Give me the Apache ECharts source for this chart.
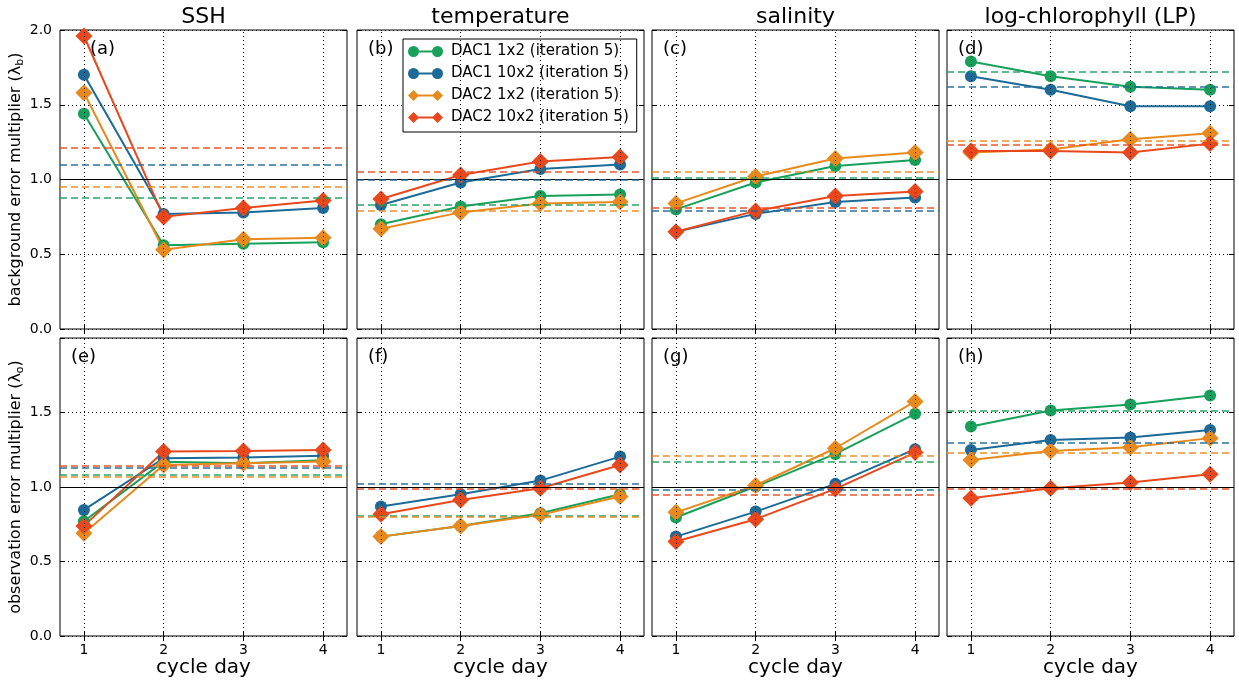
<!DOCTYPE html>
<html>
<head>
<meta charset="utf-8">
<script src="https://cdn.jsdelivr.net/npm/echarts@6/dist/echarts.min.js"></script>
<style>
  html, body { margin: 0; padding: 0; background: #fff; }
  #chart { width: 1239px; height: 685px; }
</style>
</head>
<body>
<div id="chart"></div>
<script>
// ---- data -------------------------------------------------------------
const cycleDays = [1, 2, 3, 4];
const variables = ['SSH', 'temperature', 'salinity', 'log-chlorophyll (LP)'];
const panelTags = ['(a)', '(b)', '(c)', '(d)', '(e)', '(f)', '(g)', '(h)'];
const experiments = [
  'DAC1 1x2 (iteration 5)',
  'DAC1 10x2 (iteration 5)',
  'DAC2 1x2 (iteration 5)',
  'DAC2 10x2 (iteration 5)'
];

// background error multiplier, one row per variable (SSH, T, S, chl), values per cycle day
const bgDAC1_1x2  = [[1.44, 0.56, 0.57, 0.58], [0.70, 0.82, 0.89, 0.90], [0.80, 0.98, 1.09, 1.13], [1.79, 1.69, 1.62, 1.60]];
const bgDAC1_10x2 = [[1.70, 0.77, 0.78, 0.81], [0.83, 0.98, 1.07, 1.10], [0.65, 0.77, 0.85, 0.88], [1.69, 1.60, 1.49, 1.49]];
const bgDAC2_1x2  = [[1.58, 0.53, 0.60, 0.61], [0.67, 0.78, 0.84, 0.85], [0.84, 1.02, 1.14, 1.18], [1.18, 1.20, 1.27, 1.31]];
const bgDAC2_10x2 = [[1.96, 0.75, 0.81, 0.86], [0.87, 1.03, 1.12, 1.15], [0.65, 0.79, 0.89, 0.92], [1.19, 1.19, 1.18, 1.24]];

// background multiplier reference levels (dashed), per variable
const bgRefDAC1_1x2  = [0.877, 0.831, 1.009, 1.717];
const bgRefDAC1_10x2 = [1.096, 1.004, 0.790, 1.617];
const bgRefDAC2_1x2  = [0.947, 0.790, 1.049, 1.265];
const bgRefDAC2_10x2 = [1.214, 1.049, 0.815, 1.232];

// observation error multiplier
const obDAC1_1x2  = [[0.77, 1.17, 1.16, 1.18], [0.667, 0.739, 0.824, 0.951], [0.795, 1.003, 1.222, 1.491], [1.406, 1.513, 1.554, 1.614]];
const obDAC1_10x2 = [[0.846, 1.193, 1.198, 1.209], [0.869, 0.951, 1.043, 1.204], [0.667, 0.835, 1.021, 1.254], [1.249, 1.316, 1.332, 1.383]];
const obDAC2_1x2  = [[0.69, 1.148, 1.16, 1.171], [0.667, 0.739, 0.813, 0.936], [0.83, 1.01, 1.26, 1.574], [1.182, 1.242, 1.267, 1.328]];
const obDAC2_10x2 = [[0.739, 1.238, 1.242, 1.249], [0.817, 0.913, 0.992, 1.148], [0.634, 0.784, 0.987, 1.231], [0.925, 0.992, 1.030, 1.086]];

// observation multiplier reference levels (dashed)
const obRefDAC1_1x2  = [1.081, 0.813, 1.171, 1.507];
const obRefDAC1_10x2 = [1.130, 1.025, 0.976, 1.305];
const obRefDAC2_1x2  = [1.070, 0.801, 1.213, 1.233];
const obRefDAC2_10x2 = [1.137, 0.987, 0.951, 0.987];

// ---- styling ----------------------------------------------------------
const FONT = 'DejaVu Sans';
const COLORS = ['#17a05a', '#1b6a97', '#e8891d', '#e8481b'];
const SYMBOLS = ['circle', 'circle', 'diamond', 'diamond'];
const SYMBOL_SIZE = [12, 12, 17, 17];
const GRID_LEFT = [60, 357, 652, 947];
const GRID_TOP = [30, 338];
const GRID_HEIGHT = [299, 298];
const GRID_WIDTH = 287;

const ICON_CIRCLES = 'path://M0,5.5a5.5,5.5 0 1,1 11,0a5.5,5.5 0 1,1 -11,0Z M24,5.5a5.5,5.5 0 1,1 11,0a5.5,5.5 0 1,1 -11,0Z M5,4.5H30V6.5H5Z';
const ICON_DIAMONDS = 'path://M0,5.5L5.5,0L11,5.5L5.5,11Z M24,5.5L29.5,0L35,5.5L29.5,11Z M5,4.5H30V6.5H5Z';
const ICONS = [ICON_CIRCLES, ICON_CIRCLES, ICON_DIAMONDS, ICON_DIAMONDS];

const rows = [
  { values: [bgDAC1_1x2, bgDAC1_10x2, bgDAC2_1x2, bgDAC2_10x2],
    refs: [bgRefDAC1_1x2, bgRefDAC1_10x2, bgRefDAC2_1x2, bgRefDAC2_10x2],
    yName: '{t|background error multiplier (λ}{s|b}{t|)}' },
  { values: [obDAC1_1x2, obDAC1_10x2, obDAC2_1x2, obDAC2_10x2],
    refs: [obRefDAC1_1x2, obRefDAC1_10x2, obRefDAC2_1x2, obRefDAC2_10x2],
    yName: '{t|observation error multiplier (λ}{s|o}{t|)}' }
];

const grid = [], xAxis = [], yAxis = [], series = [], graphic = [];

rows.forEach((row, r) => {
  variables.forEach((v, c) => {
    const p = r * 4 + c;
    grid.push({
      left: GRID_LEFT[c], top: GRID_TOP[r], width: GRID_WIDTH, height: GRID_HEIGHT[r],
      show: true, borderColor: '#000', borderWidth: 1, backgroundColor: '#fff'
    });
    const xBase = {
      type: 'value', gridIndex: p, min: 0.7, max: 4.3,
      axisLine: { show: false }, splitLine: { show: false },
      axisTick: { show: true, inside: true, length: 5, customValues: cycleDays, lineStyle: { color: '#000' } }
    };
    xAxis.push(Object.assign({}, xBase, {
      position: 'bottom',
      axisLabel: { show: r === 1, customValues: cycleDays, formatter: val => String(val),
                   fontSize: 14, color: '#000', margin: 7, fontFamily: FONT },
      name: r === 1 ? 'cycle day' : '', nameLocation: 'middle', nameGap: 22,
      nameTextStyle: { fontSize: 20, color: '#000', fontFamily: FONT }
    }));
    xAxis.push(Object.assign({}, xBase, { position: 'top', axisLabel: { show: false } }));

    const yBase = {
      type: 'value', gridIndex: p, min: 0, max: 2, interval: 0.5,
      axisLine: { show: false },
      axisTick: { show: true, inside: true, length: 5, lineStyle: { color: '#000' } }
    };
    yAxis.push(Object.assign({}, yBase, {
      position: 'left',
      splitLine: { show: true, lineStyle: { type: [1, 3], color: '#000', width: 1 } },
      axisLabel: { show: c === 0, fontSize: 14, color: '#000', margin: 8, fontFamily: FONT,
                   formatter: val => (r === 1 && val >= 2) ? '' : val.toFixed(1) },
      name: c === 0 ? row.yName : '', nameLocation: 'middle', nameRotate: 90, nameGap: 32,
      nameTextStyle: {
        color: '#000', fontFamily: FONT,
        rich: {
          t: { fontSize: 16, lineHeight: 20, fontFamily: FONT, color: '#000' },
          s: { fontSize: 11, lineHeight: 11, verticalAlign: 'bottom', fontFamily: FONT, color: '#000' }
        }
      }
    }));
    yAxis.push(Object.assign({}, yBase, { position: 'right', splitLine: { show: false }, axisLabel: { show: false } }));

    // vertical dotted grid, unity line and the dashed reference levels
    const lines = cycleDays.map(d => ({ xAxis: d, lineStyle: { type: [1, 3], color: '#000', width: 1 } }));
    lines.push({ yAxis: 1, lineStyle: { type: 'solid', color: '#000', width: 1 } });
    row.refs.forEach((ref, e) => {
      lines.push({ yAxis: ref[c], lineStyle: { type: [7, 4], color: COLORS[e], width: 2, opacity: 0.7 } });
    });
    series.push({
      type: 'line', name: 'frame', xAxisIndex: 2 * p, yAxisIndex: 2 * p, data: [], z: 1,
      silent: true,
      markLine: { symbol: 'none', silent: true, animation: false, label: { show: false }, data: lines }
    });

    row.values.forEach((vals, e) => {
      series.push({
        type: 'line', name: experiments[e], xAxisIndex: 2 * p, yAxisIndex: 2 * p, z: 3,
        data: cycleDays.map((d, i) => [d, vals[c][i]]),
        symbol: SYMBOLS[e], symbolSize: SYMBOL_SIZE[e],
        itemStyle: { color: COLORS[e] },
        lineStyle: { color: COLORS[e], width: 2 },
        emphasis: { disabled: true }
      });
    });

    graphic.push({
      type: 'text', x: (c === 0 && r === 0) ? 90 : GRID_LEFT[c] + 11, y: GRID_TOP[r] + 19,
      style: { text: panelTags[p], fontSize: 18, fontFamily: FONT, fill: '#000', verticalAlign: 'middle', align: 'left' },
      z: 10
    });
  });
});

variables.forEach((v, c) => {
  graphic.push({
    type: 'text', x: GRID_LEFT[c] + GRID_WIDTH / 2, y: 17,
    style: { text: v, fontSize: 22, fontFamily: FONT, fill: '#000', align: 'center', verticalAlign: 'middle' }
  });
});

const chart = echarts.init(document.getElementById('chart'), null, { renderer: 'canvas' });
chart.setOption({
  animation: false,
  backgroundColor: '#fff',
  grid, xAxis, yAxis, series, graphic,
  legend: {
    data: experiments.map((n, i) => ({ name: n, icon: ICONS[i] })),
    orient: 'vertical', left: 403, top: 39,
    itemWidth: 35, itemHeight: 11, itemGap: 7,
    padding: [5, 8, 7, 5],
    borderColor: '#000', borderWidth: 1, backgroundColor: '#fff',
    textStyle: { fontSize: 15, fontFamily: FONT, color: '#000', padding: [0, 0, 0, 3] }
  }
});
</script>
</body>
</html>
